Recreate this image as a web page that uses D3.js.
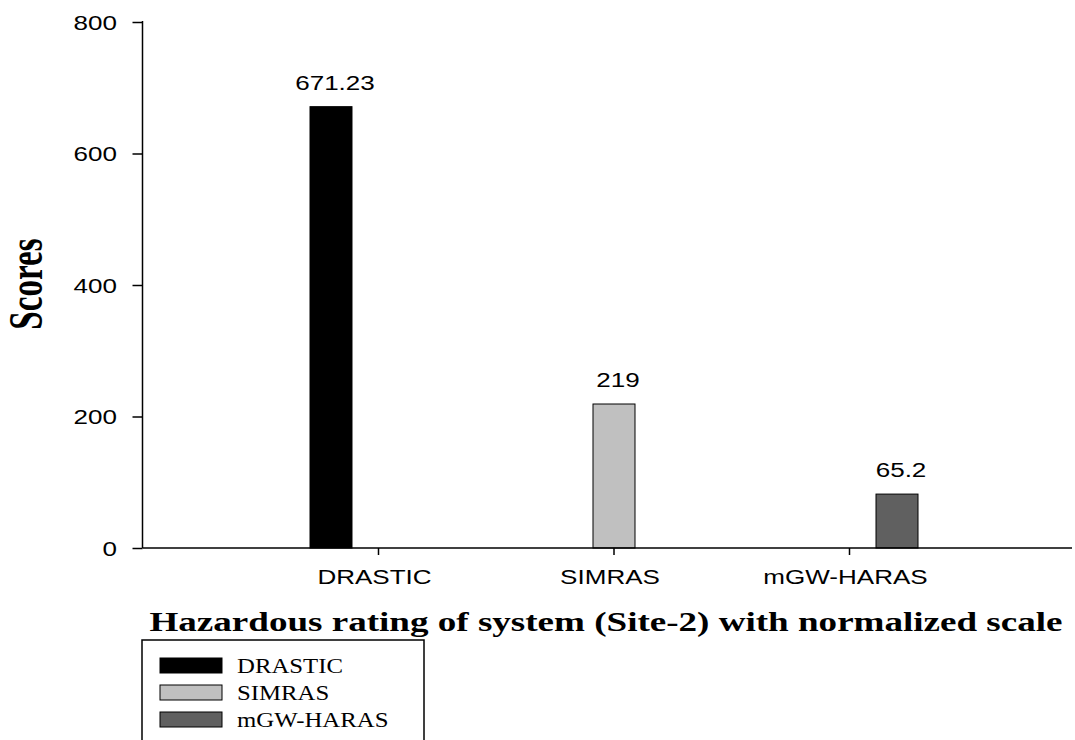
<!DOCTYPE html>
<html><head><meta charset="utf-8">
<script src="https://cdn.jsdelivr.net/npm/d3@7"></script>
<style>body{margin:0;background:#fff}</style></head>
<body><svg id="c" width="1075" height="740"></svg>
<script>
const categories = ["DRASTIC", "SIMRAS", "mGW-HARAS"];
const series = ["DRASTIC", "SIMRAS", "mGW-HARAS"];
const barValues = [671.23, 219, 82];
const valueLabels = ["671.23", "219", "65.2"];
const seriesColors = ["#000000", "#c0c0c0", "#606060"];
const yTicks = [0, 200, 400, 600, 800];
const yLabel = "Scores";
const xTitle = "Hazardous rating of system (Site-2) with normalized scale";

const svg = d3.select("#c");
const SX = 1.24;
const sans = "'Liberation Sans', Arial, sans-serif";
const serif = "'Liberation Serif', 'Times New Roman', serif";

function stext(x, y, str, opts) {
  opts = opts || {};
  return svg.append("text")
    .attr("transform", `translate(${x},${y}) scale(${opts.sx || SX},${opts.sy || 1})`)
    .attr("text-anchor", opts.anchor || "middle")
    .attr("font-family", opts.family || sans)
    .attr("font-size", opts.size || 21)
    .attr("font-weight", opts.weight || "normal")
    .attr("fill", "#000")
    .text(str);
}

const y = d3.scaleLinear().domain([0, 800]).range([548, 22]);
const x0 = d3.scaleBand().domain(categories).range([143, 1085]).paddingInner(0).paddingOuter(0.5);
const bw = x0.bandwidth();
const x1 = d3.scaleBand().domain(series).range([bw / 2 - 68.5, bw / 2 + 68.5]).paddingInner(0.116);
const color = d3.scaleOrdinal().domain(series).range(seriesColors);

const data = categories.map((c, i) => ({cat: c, ser: series[i], v: barValues[i], label: valueLabels[i]}));

// bars
svg.append("g").selectAll("rect").data(data).join("rect")
  .attr("x", d => x0(d.cat) + x1(d.ser))
  .attr("y", d => y(d.v))
  .attr("width", x1.bandwidth())
  .attr("height", d => y(0) - y(d.v))
  .attr("fill", d => color(d.ser))
  .attr("stroke", "#000").attr("stroke-width", 1);

// value labels
data.forEach(d => {
  stext(x0(d.cat) + x1(d.ser) + x1.bandwidth() / 2 + 4, y(d.v) - 17, d.label);
});

// y axis
const yAxis = svg.append("g").attr("transform", "translate(142.5,0)")
  .call(d3.axisLeft(y).tickValues(yTicks).tickSize(10).tickFormat(""));
yAxis.select(".domain").remove();
yAxis.selectAll(".tick line").attr("stroke", "#000").attr("stroke-width", 1.5);
svg.append("line").attr("x1", 142.5).attr("x2", 142.5).attr("y1", y(800) - 1).attr("y2", y(0))
  .attr("stroke", "#000").attr("stroke-width", 1.5);
yTicks.forEach(t => stext(117, y(t) + 7.5, String(t), {anchor: "end"}));

// x axis
const xAxis = svg.append("g").attr("transform", `translate(0,${y(0)})`)
  .call(d3.axisBottom(x0).tickSize(7).tickFormat(""));
xAxis.select(".domain").remove();
xAxis.selectAll(".tick line").attr("stroke", "#000").attr("stroke-width", 1.5);
svg.append("line").attr("x1", 142.5).attr("x2", 1072).attr("y1", y(0)).attr("y2", y(0))
  .attr("stroke", "#000").attr("stroke-width", 1.5);
categories.forEach(c => stext(x0(c) + bw / 2 - 4, 584, c));

// axis titles
stext(606, 631, xTitle, {family: serif, size: 27, weight: "bold", sx: 1.0})
  .attr("textLength", 913).attr("lengthAdjust", "spacingAndGlyphs");
svg.append("text")
  .attr("transform", "translate(42,284) rotate(-90) scale(0.85,1.24)")
  .attr("text-anchor", "middle").attr("font-family", serif)
  .attr("font-size", 39).attr("font-weight", "bold").text(yLabel);

// legend
const lg = svg.append("g");
lg.append("rect").attr("x", 142).attr("y", 640).attr("width", 282).attr("height", 120)
  .attr("fill", "#fff").attr("stroke", "#000").attr("stroke-width", 1.5);
series.forEach((s, i) => {
  const yy = 658 + i * 27;
  lg.append("rect").attr("x", 160).attr("y", yy).attr("width", 62).attr("height", 15)
    .attr("fill", color(s)).attr("stroke", "#000").attr("stroke-width", 1);
  stext(237, yy + 15, s, {anchor: "start", family: serif, size: 20, sx: 1.24});
});
</script>
</body></html>
